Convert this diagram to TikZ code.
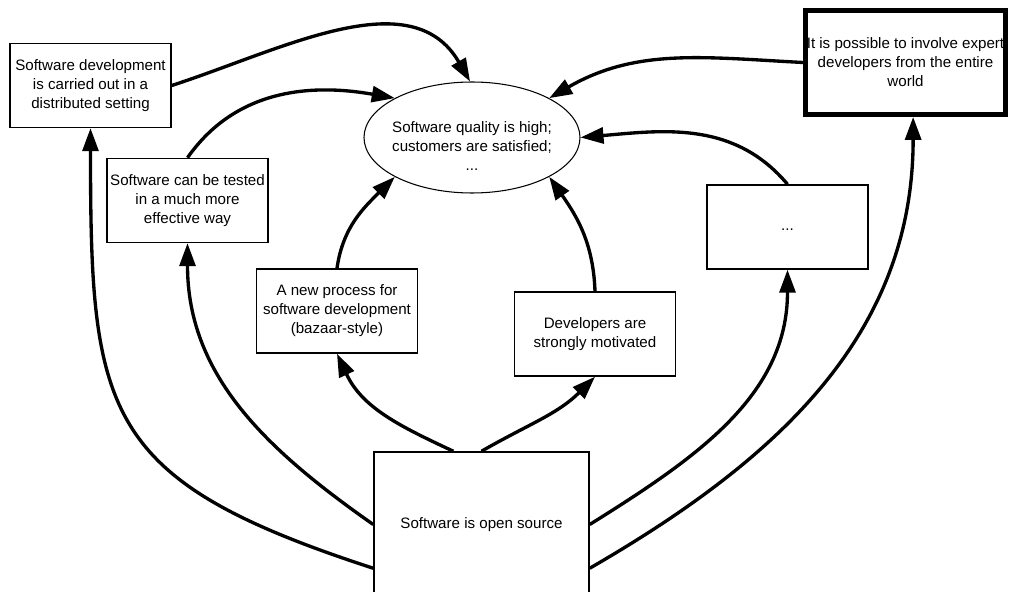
\documentclass[tikz,border=0pt]{standalone}
\usepackage{fontspec}
\setsansfont{Liberation Sans}
\usetikzlibrary{arrows.meta, positioning, shapes.geometric}
\tikzset{
  every picture/.style={font=\sffamily\fontsize{8.6}{10.8}\selectfont, line width=0.85pt},
  box/.style={draw, fill=white, align=center, inner sep=0pt, minimum width=3.22cm, minimum height=1.68cm},
  arrow/.style={-{Triangle[length=4.6mm, width=3.2mm]}, line width=1.9pt},
}
\begin{document}
\begin{tikzpicture}[
  goal/.style={draw, ellipse, line width=0.6pt, inner sep=0pt, minimum width=4.32cm, minimum height=2.22cm},
  bigbox/.style={box, line width=2.8pt, minimum width=4cm, minimum height=2.08cm},
]
  \useasboundingbox (0,0) rectangle (20.22,-11.84);

  \node[goal, label={[yshift=-0.18cm, align=center]center:{Software quality is high;\\ customers are satisfied;\\ ...}}] (goal) at (9.44,-2.75) {};

  \node[box] (dist) at (1.81,-1.71) {Software development\\ is carried out in a\\ distributed setting};
  \node[box] (test) at (3.75,-4.01) {Software can be tested\\ in a much more\\ effective way};
  \node[box] (proc) at (6.74,-6.22) {A new process for\\ software development\\ (bazaar-style)};
  \node[box] (motiv) at (11.9,-6.68) {Developers are\\ strongly motivated};
  \node[box] (etc) at (15.75,-4.54) {\strut...};
  \node[bigbox] (expert) at (18.11,-1.25) {It is possible to involve expert\\ developers from the entire\\ world};
  \node[box, minimum width=4.3cm, minimum height=2.9cm] (open) at (9.63,-10.49) {Software is open source};

  \draw[arrow] (dist.east) to[out=18, in=120] (goal.92);
  \draw[arrow] (test.north) to[out=55, in=170] (goal.153);
  \draw[arrow] (proc.north) to[out=82, in=225] (goal.207);
  \draw[arrow] (motiv.north) to[out=92, in=-55] (goal.333);
  \draw[arrow] (etc.north) to[out=130, in=5] (goal.east);
  \draw[arrow] (expert.west) to[out=177, in=30] (goal.27);

  \draw[arrow] (open.202) to[out=162, in=-90, looseness=1.4] (dist.south);
  \draw[arrow] (open.west) to[out=145, in=-90] (test.south);
  \draw[arrow] (open.111) to[out=155, in=-65] (proc.south);
  \draw[arrow] (open.north) to[out=30, in=-135] (motiv.south);
  \draw[arrow] (open.east) to[out=32, in=-90] (etc.south);
  \draw[arrow] (open.338) to[out=30, in=-90] (expert.-82);
\end{tikzpicture}
\end{document}
